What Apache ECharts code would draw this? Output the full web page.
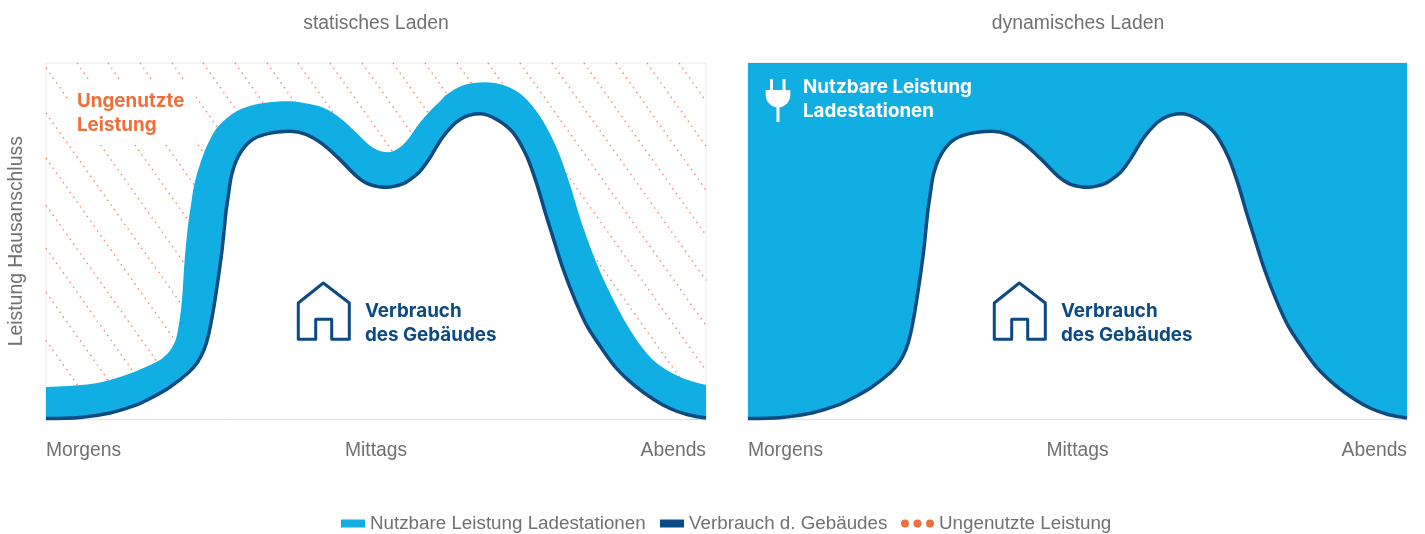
<!DOCTYPE html>
<html>
<head>
<meta charset="utf-8">
<style>
  html, body { margin: 0; padding: 0; background: #fff; }
  #chart { width: 1425px; height: 534px; }
</style>
<script src="https://cdn.jsdelivr.net/npm/echarts@6/dist/echarts.min.js"></script>
</head>
<body>
<div id="chart"></div>
<script>
// tageszeit on x (0..660), leistung on y (0..356)
const xTicks = { 0: "Morgens", 330: "Mittags", 660: "Abends" };
const panelTitles = ["statisches Laden", "dynamisches Laden"];
const seriesNames = ["Nutzbare Leistung Ladestationen", "Verbrauch d. Gebäudes", "Ungenutzte Leistung"];

const verbrauch = [
  [0, 1], [34, 2], [64, 6.5], [89, 14], [107, 22.5], [124, 32.5], [142, 46.5], [151, 56.5], [158, 69.5],
  [163, 86.5], [169, 119.5], [175.7, 166.5], [180, 207.5], [182.5, 225], [185.7, 244.5], [192.3, 262.8], [204, 277.8],
  [220.7, 285.2], [244, 287.8], [260.7, 284.5], [277.3, 274.5], [294, 259.5], [310.7, 242.8], [324, 234.5],
  [340.7, 231.8], [357.3, 235.5], [366, 241], [374, 247.8], [384, 261.5], [397.3, 282.8], [414, 299.5], [434, 305.2],
  [450.7, 299.5], [467.3, 286.2], [480.7, 262.8], [490.7, 235.5], [499, 207.5], [506.5, 183.5], [517, 150.5],
  [529, 119.5], [541, 93.5], [556, 70.5], [571, 50.5], [589, 33.5], [607, 20.5], [624, 11], [641, 5], [660, 1.5],
];
const nutzbarStatisch = [
  [0, 32.5], [41, 35], [64, 39.5], [84, 46], [97.3, 51.5], [114, 59.5], [120, 64.5], [125.7, 71.2], [130.7, 82.8],
  [135.7, 116.5], [138.5, 157.5], [141.5, 189.5], [145, 214.5], [149, 237.8], [157.3, 264.5], [164, 279.5],
  [172.3, 292.8], [190.7, 307.8], [214, 315.5], [244, 317.8], [260.7, 315.5], [277.3, 311.2], [294, 301.2],
  [310.7, 286.2], [327.3, 271.2], [342.3, 266.8], [357.3, 274.5], [374, 296.5], [384, 308], [394, 317.8],
  [400.7, 324.5], [417.3, 333.8], [439, 336.8], [460.7, 332.8], [477.3, 322.8], [494, 302.8], [510.7, 271.2],
  [524, 234.5], [534, 201.5], [547, 165], [561, 132.5], [584, 89.5], [607, 59.5], [634, 42.5], [660, 34.5],
];
// dotted hatch, each line x1, y1, x2, y2
const hatchLines = [
  [0, 79, 56, 0], [0, 127, 90, 0], [0, 171, 121, 0], [0, 214, 152, 0], [0, 261, 185, 0], [0, 306, 217, 0],
  [0, 351, 249, 0], [31, 356, 283, 0], [62, 356, 314, 0], [94, 356, 346, 0], [126, 356, 378, 0],
  [157, 356, 409, 0], [189, 356, 441, 0], [221, 356, 473, 0], [252, 356, 504, 0], [284, 356, 536, 0],
  [316, 356, 568, 0], [347, 356, 599, 0], [379, 356, 631, 0], [411, 356, 660, 5], [442, 356, 660, 49],
  [474, 356, 660, 94], [506, 356, 660, 139], [538, 356, 660, 184], [570, 356, 660, 229],
  [601, 356, 660, 273], [633, 356, 660, 318],
];

const BLUE = "#10aee2";
const DARK = "#0b4a82";
const ORANGE = "#ee6f3b";
const GRAY = "#717171";
const FONT = "Liberation Sans";
const BOLD = "Inter";

const myChart = echarts.init(document.getElementById("chart"));

function xAxisFor(gridIndex) {
  return {
    gridIndex,
    type: "value",
    min: 0,
    max: 660,
    interval: 330,
    splitLine: { show: false },
    axisTick: { show: false },
    axisLine: { show: true, onZero: false, lineStyle: { color: "#e2e2e2", width: 1 } },
    axisLabel: {
      color: GRAY,
      fontFamily: FONT,
      fontSize: 19.3,
      margin: 22,
      alignMinLabel: "left",
      alignMaxLabel: "right",
      formatter: (val) => xTicks[val],
    },
  };
}

function yAxisFor(gridIndex, name) {
  return {
    gridIndex,
    type: "value",
    min: 0,
    max: 356,
    name,
    nameLocation: "middle",
    nameGap: 20,
    nameTextStyle: { color: GRAY, fontFamily: FONT, fontSize: 19.4 },
    splitLine: { show: false },
    axisTick: { show: false },
    axisLine: { show: false },
    axisLabel: { show: false },
  };
}

function houseIcon(x) {
  return {
    type: "polygon",
    x,
    y: 0,
    z: 20,
    shape: {
      points: [[298.3, 303], [323.3, 283], [349.3, 303], [349.3, 339.3], [331.7, 339.3],
        [331.7, 319.3], [315.7, 319.3], [315.7, 339.3], [298.3, 339.3]],
    },
    style: { fill: "none", stroke: DARK, lineWidth: 3, lineJoin: "round" },
  };
}

function noteText(x, y, text, fill, extra) {
  return {
    type: "text",
    x,
    y,
    z: 20,
    style: { text, fill, font: `700 18.8px ${BOLD}`, lineHeight: 24, ...extra },
  };
}

function plugRect(x, y, width, height) {
  return { type: "rect", z: 20, shape: { x, y, width, height }, style: { fill: "#fff" } };
}

function legendFor(name, left, itemWidth, icon, color) {
  return {
    left,
    top: 514,
    padding: 0,
    itemWidth,
    itemHeight: 8,
    itemGap: 0,
    selectedMode: false,
    textStyle: { color: GRAY, fontFamily: FONT, fontSize: 18.8 },
    data: [{ name, icon, itemStyle: { color, borderWidth: 0 }, lineStyle: { width: 0 } }],
  };
}

const option = {
  animation: false,
  backgroundColor: "#fff",
  title: panelTitles.map((text, i) => ({
    text,
    left: i === 0 ? 376 : 1078,
    top: 14,
    padding: 0,
    textAlign: "center",
    textStyle: { color: GRAY, fontFamily: FONT, fontSize: 19.4, fontWeight: "normal" },
  })),
  grid: [
    { left: 46, top: 63, width: 660, height: 356.5, show: true, borderColor: "#ececec", borderWidth: 1, outerBoundsMode: "none" },
    { left: 748, top: 63, width: 659, height: 356.5, show: true, borderColor: "#dedede", borderWidth: 1, outerBoundsMode: "none" },
  ],
  xAxis: [xAxisFor(0), xAxisFor(1)],
  yAxis: [yAxisFor(0, "Leistung Hausanschluss"), yAxisFor(1, "")],
  legend: [
    legendFor(seriesNames[0], 341, 24, "rect", BLUE),
    legendFor(seriesNames[1], 660, 24, "rect", DARK),
    legendFor(seriesNames[2], 901, 33,
      "path://M4 4m-4 0a4 4 0 1 0 8 0a4 4 0 1 0-8 0M16.5 4m-4 0a4 4 0 1 0 8 0a4 4 0 1 0-8 0M29 4m-4 0a4 4 0 1 0 8 0a4 4 0 1 0-8 0",
      ORANGE),
  ],
  series: [
    {
      name: seriesNames[2],
      type: "custom",
      xAxisIndex: 0,
      yAxisIndex: 0,
      z: 1,
      silent: true,
      itemStyle: { color: ORANGE },
      encode: { x: [0, 2], y: [1, 3] },
      renderItem(params, api) {
        const a = api.coord([api.value(0), api.value(1)]);
        const b = api.coord([api.value(2), api.value(3)]);
        return {
          type: "line",
          shape: { x1: a[0], y1: a[1], x2: b[0], y2: b[1] },
          style: { stroke: ORANGE, lineWidth: 1.4, lineDash: [1.4, 4.5], opacity: 0.85 },
        };
      },
      data: hatchLines,
    },
    {
      name: seriesNames[0],
      type: "line",
      xAxisIndex: 0,
      yAxisIndex: 0,
      z: 2,
      smooth: 0.33,
      symbol: "none",
      lineStyle: { width: 0 },
      itemStyle: { color: BLUE },
      areaStyle: { color: BLUE, opacity: 1, origin: "start" },
      data: nutzbarStatisch,
    },
    {
      name: seriesNames[1],
      type: "line",
      xAxisIndex: 0,
      yAxisIndex: 0,
      z: 3,
      smooth: 0.33,
      symbol: "none",
      lineStyle: { width: 3.5, color: DARK },
      itemStyle: { color: DARK },
      areaStyle: { color: "#fff", opacity: 1, origin: "start" },
      data: verbrauch,
    },
    {
      name: seriesNames[1],
      type: "line",
      xAxisIndex: 1,
      yAxisIndex: 1,
      z: 3,
      smooth: 0.33,
      symbol: "none",
      lineStyle: { width: 3.5, color: DARK },
      itemStyle: { color: DARK },
      areaStyle: { color: BLUE, opacity: 1, origin: "end" },
      data: verbrauch,
    },
  ],
  graphic: [
    houseIcon(0),
    houseIcon(696),
    noteText(68, 81, "Ungenutzte\nLeistung", ORANGE, {
      backgroundColor: "#fff",
      padding: [8, 11, 8, 9],
    }),
    noteText(365, 299, "Verbrauch\ndes Gebäudes", DARK),
    noteText(1061, 299, "Verbrauch\ndes Gebäudes", DARK),
    noteText(803, 75, "Nutzbare Leistung\nLadestationen", "#fff"),
    // stecker
    plugRect(770, 79, 3, 12),
    plugRect(782.5, 79, 3, 12),
    plugRect(765.7, 90, 24.6, 5),
    plugRect(776.5, 105, 3, 17),
    {
      type: "sector",
      z: 20,
      shape: { cx: 778, cy: 95, r: 12.3, startAngle: 0, endAngle: Math.PI },
      style: { fill: "#fff" },
    },
  ],
};

myChart.setOption(option);
</script>
</body>
</html>
